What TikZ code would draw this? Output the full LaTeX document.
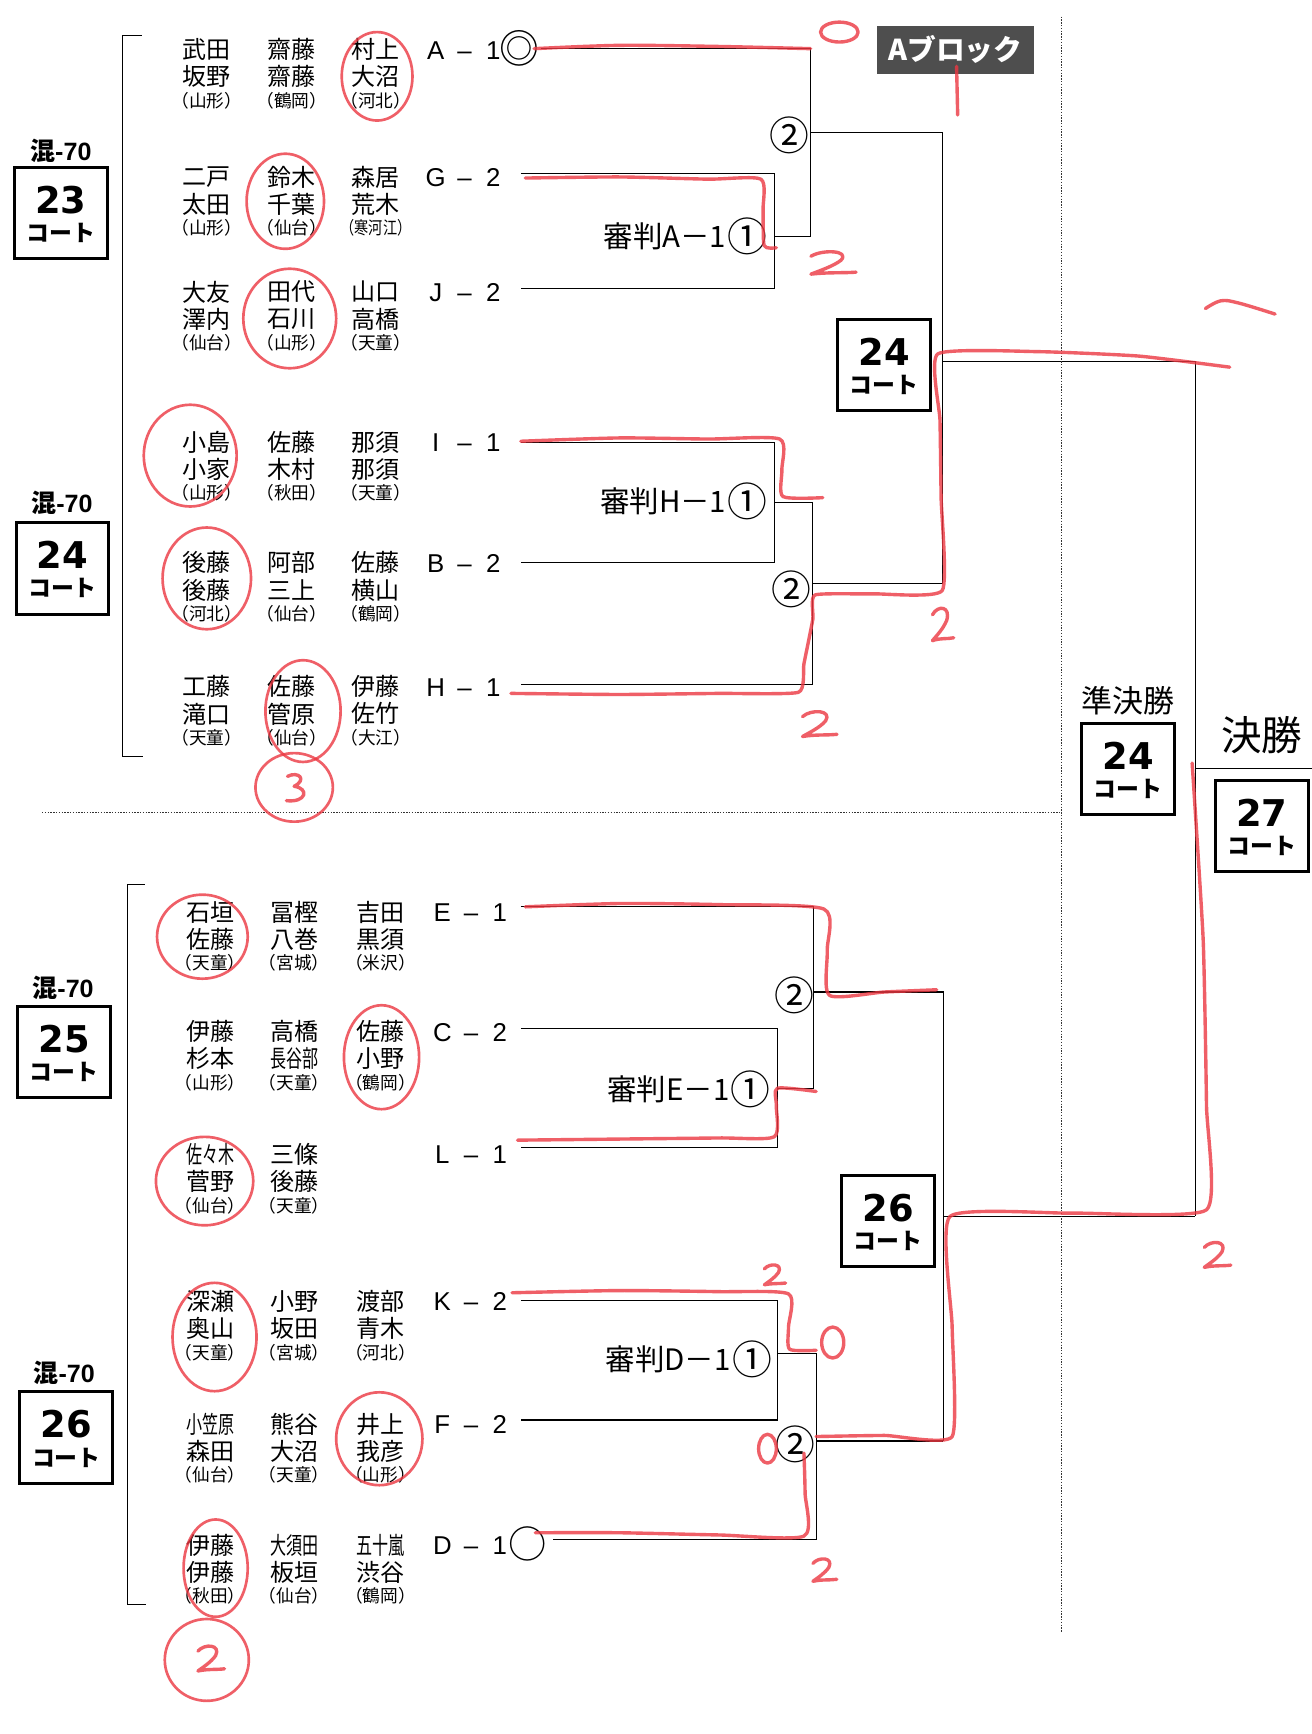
\documentclass[tikz,border=0pt]{standalone}
\usepackage{fontspec}
\usepackage{graphicx}
\newfontfamily\jp{Noto Sans CJK JP}
\newfontfamily\lsans{Liberation Sans}
\newfontfamily\dvs{DejaVu Sans}
\definecolor{penred}{RGB}{236,56,66}
\definecolor{blockgray}{RGB}{78,78,78}
\newcommand\cond[1]{\scalebox{0.667}[1]{#1}}
\newcommand\condaff[1]{\scalebox{0.8}[1]{#1}}
\tikzset{
  nm/.style={font=\jp\fontsize{16.3}{18}\selectfont, inner sep=0pt},
  affl/.style={font=\jp\fontsize{12}{13}\selectfont, inner sep=0pt},
  lb/.style={font=\lsans\fontsize{17.5}{18}\selectfont, inner sep=0pt, anchor=base},
  ln/.style={line width=0.75pt, draw=black},
  brk/.style={line width=0.9pt, draw=black},
  dotl/.style={line width=0.9pt, dash pattern=on 0.9pt off 1pt, draw=black!80},
  courtbox/.style={draw, line width=2pt, minimum width=63pt, minimum height=62pt, inner sep=0pt},
  cnum/.style={font=\dvs\bfseries\fontsize{25}{25}\selectfont, inner sep=0pt},
  ckoto/.style={font=\jp\bfseries\fontsize{15.5}{16}\selectfont, inner sep=0pt},
  mixl/.style={font=\jp\bfseries\fontsize{17}{18}\selectfont, inner sep=0pt},
  refl/.style={font=\jp\fontsize{20}{20}\selectfont, inner sep=0pt, anchor=east},
  circn/.style={font=\jp\fontsize{27}{27}\selectfont, inner sep=0pt},
  redpen/.style={draw=penred, line width=2.3pt, line cap=round, line join=round, opacity=0.8},
  redring/.style={draw=penred, line width=1.8pt, opacity=0.8},
  htwo/.pic={\draw[redpen] (-11,-7) .. controls (-5,-14) and (10,-13) .. (5,-3) .. controls (1,3) and (-7,8) .. (-11,11) .. controls (-2,9) and (6,10) .. (13,9);},
  hthree/.pic={\draw[redpen] (-8,-11) .. controls (2,-16) and (10,-8) .. (-2,-2) .. controls (12,0) and (9,13) .. (-9,11);},
}
\newcommand\mkcourt[4]{\node[courtbox] (#1) at (#2,#3) {};\node[cnum] (#1n) at (#2,#3-12) {#4};\node[ckoto] (#1k) at (#2,#3+18) {コート};}
\newcommand\grp[6]{\node[nm] (#1a) at (#2,#3) {#4};\node[nm] (#1b) at (#2,#3+24.5) {#5};\node[affl] (#1c) at (#2,#3+46) {#6};}
\newcommand\lab[5]{\node[lb] (#1l) at (#2,#3+8.4) {#4};\node[lb] (#1d) at (#2+26,#3+8.4) {–};\node[lb] (#1n) at (#2+52,#3+8.4) {#5};}
\newcommand\referee[4]{\node[circn] (#1c) at (#2,#3) {①};\node[refl] (#1) at ([xshift=-0.5pt]#1c.west) {審判#4－1};}
\begin{document}
\begin{tikzpicture}[x=0.75pt,y=-0.75pt]
\useasboundingbox (0,0) rectangle (1186,1568);
\fill[white] (0,0) rectangle (1186,1568);

% ---------- left court labels ----------
\node[mixl] (mx1) at (55,136) {混{\lsans\bfseries -70}};
\mkcourt{k23}{55}{192.5}{23}
\node[mixl] (mx2) at (56,455) {混{\lsans\bfseries -70}};
\mkcourt{k24}{56.5}{514}{24}
\node[mixl] (mx3) at (57,893) {混{\lsans\bfseries -70}};
\mkcourt{k25}{58}{951.5}{25}
\node[mixl] (mx4) at (58,1241) {混{\lsans\bfseries -70}};
\mkcourt{k26}{60}{1300}{26}

% ---------- big brackets ----------
\draw[brk] (128,32) -- (111,32) -- (111,684) -- (129,684);
\draw[brk] (131,800) -- (115,800) -- (115,1451) -- (132,1451);

% ---------- teams upper ----------
\grp{tA1}{187}{45}{武田}{坂野}{（山形）}
\grp{tA2}{264}{45}{齋藤}{齋藤}{（鶴岡）}
\grp{tA3}{340}{45}{村上}{大沼}{（河北）}
\grp{tG1}{187}{160}{二戸}{太田}{（山形）}
\grp{tG2}{264}{160}{鈴木}{千葉}{（仙台）}
\grp{tG3}{340}{160}{森居}{荒木}{\condaff{（寒河江）}}
\grp{tJ1}{187}{264}{大友}{澤内}{（仙台）}
\grp{tJ2}{264}{264}{田代}{石川}{（山形）}
\grp{tJ3}{340}{264}{山口}{高橋}{（天童）}
\grp{tI1}{187}{400}{小島}{小家}{（山形）}
\grp{tI2}{264}{400}{佐藤}{木村}{（秋田）}
\grp{tI3}{340}{400}{那須}{那須}{（天童）}
\grp{tB1}{187}{509}{後藤}{後藤}{（河北）}
\grp{tB2}{264}{509}{阿部}{三上}{（仙台）}
\grp{tB3}{340}{509}{佐藤}{横山}{（鶴岡）}
\grp{tH1}{187}{621}{工藤}{滝口}{（天童）}
\grp{tH2}{264}{621}{佐藤}{管原}{（仙台）}
\grp{tH3}{340}{621}{伊藤}{佐竹}{（大江）}
% ---------- teams lower ----------
\grp{tE1}{190}{825}{石垣}{佐藤}{（天童）}
\grp{tE2}{266}{825}{冨樫}{八巻}{（宮城）}
\grp{tE3}{344}{825}{吉田}{黒須}{（米沢）}
\grp{tC1}{190}{933}{伊藤}{杉本}{（山形）}
\grp{tC2}{266}{933}{高橋}{\cond{長谷部}}{（天童）}
\grp{tC3}{344}{933}{佐藤}{小野}{（鶴岡）}
\grp{tL1}{190}{1044}{\cond{佐々木}}{菅野}{（仙台）}
\grp{tL2}{266}{1044}{三條}{後藤}{（天童）}
\grp{tK1}{190}{1177}{深瀬}{奥山}{（天童）}
\grp{tK2}{266}{1177}{小野}{坂田}{（宮城）}
\grp{tK3}{344}{1177}{渡部}{青木}{（河北）}
\grp{tF1}{190}{1288}{\cond{小笠原}}{森田}{（仙台）}
\grp{tF2}{266}{1288}{熊谷}{大沼}{（天童）}
\grp{tF3}{344}{1288}{井上}{我彦}{（山形）}
\grp{tD1}{190}{1397}{伊藤}{伊藤}{（秋田）}
\grp{tD2}{266}{1397}{\cond{大須田}}{板垣}{（仙台）}
\grp{tD3}{344}{1397}{\cond{五十嵐}}{渋谷}{（鶴岡）}

% ---------- labels ----------
\lab{lA}{394}{45}{A}{1}
\node[font=\jp\fontsize{27}{27}\selectfont, inner sep=0pt] (dbl) at (470,44) {◎};
\lab{lG}{394}{160}{G}{2}
\lab{lJ}{394}{264}{J}{2}
\lab{lI}{394}{400}{I}{1}
\lab{lB}{394}{509}{B}{2}
\lab{lH}{394}{621}{H}{1}
\lab{lE}{400}{825}{E}{1}
\lab{lC}{400}{933}{C}{2}
\lab{lL}{400}{1044}{L}{1}
\lab{lK}{400}{1177}{K}{2}
\lab{lF}{400}{1288}{F}{2}
\lab{lD}{400}{1397}{D}{1}
\node[font=\jp\fontsize{26}{26}\selectfont, inner sep=0pt] (circD) at (477,1396) {○};

% ---------- bracket lines: A block ----------
\coordinate (pA) at (489,44);
\draw[ln] (pA) -- (733,44) -- (733,214);
\draw[ln] (471,157) -- (700,157) -- (700,261) -- (471,261);
\draw[ln] (700,214) -- (733,214);
\draw[ln] (733,120) -- (852,120) -- (852,528);
\draw[ln] (471,400) -- (700,400) -- (700,509) -- (471,509);
\draw[ln] (700,454) -- (735,454) -- (735,619) -- (471,619);
\draw[ln] (735,528) -- (852,528);
\draw[ln] (852,327) -- (1081,327) -- (1081,1100);
% lower block
\draw[ln] (471,820) -- (736,820) -- (736,984);
\draw[ln] (471,930) -- (703,930) -- (703,1038) -- (471,1038);
\draw[ln] (703,984) -- (736,984);
\draw[ln] (736,897) -- (853,897) -- (853,1303);
\draw[ln] (471,1176) -- (703,1176) -- (703,1284) -- (471,1284);
\draw[ln] (703,1224) -- (738,1224) -- (738,1392) -- (500,1392);
\draw[ln] (738,1303) -- (853,1303);
\draw[ln] (853,1100) -- (1081,1100);
\draw[ln] (1081,695) -- (1186,695);

% referee labels and circled numbers
\referee{rA}{676}{214}{A}
\referee{rH}{676}{453}{H}
\referee{rE}{679}{985}{E}
\referee{rD}{680}{1229}{D}
\node[circn] (wA) at (714,122) {②};
\node[circn] (wH) at (716,533) {②};
\node[circn] (wE) at (718,900) {②};
\node[circn] (wD) at (719,1306) {②};

% middle court boxes
\mkcourt{m24}{799.5}{330}{24}
\mkcourt{m26}{803}{1104}{26}

% block label
\node[fill=blockgray, text=white, minimum width=106.5pt, minimum height=32.6pt, inner sep=0pt, font=\jp\bfseries\fontsize{19.5}{19.5}\selectfont] (ablk) at (864,45) {Aブロック};

% semifinal / final
\node[font=\jp\fontsize{21}{21}\selectfont, inner sep=0pt] (sf) at (1020,634) {準決勝};
\mkcourt{s24}{1020}{695.5}{24}
\node[font=\jp\fontsize{27.5}{28}\selectfont, inner sep=0pt] (fn) at (1141,665) {決勝};
\mkcourt{f27}{1141}{747}{27}

% dotted separators
\draw[dotl] (38,735) -- (958,735);
\draw[dotl] (960,15) -- (960,1476);

% ---------- red handwriting ----------
\draw[redring] (341,69) ellipse [x radius=32, y radius=40];
\draw[redring] (258,182) ellipse [x radius=35, y radius=43];
\draw[redring] (262,288) ellipse [x radius=42, y radius=45];
\draw[redring] (172,412) ellipse [x radius=42, y radius=46];
\draw[redring] (187,523) ellipse [x radius=40, y radius=46];
\draw[redring] (274,643) ellipse [x radius=34, y radius=46];
\draw[redring] (266,712) ellipse [x radius=35, y radius=31];
\pic at (268,713) {hthree};
\draw[redring] (183,847) ellipse [x radius=41, y radius=38];
\draw[redring] (345,956) ellipse [x radius=34, y radius=47];
\draw[redring] (185,1068) ellipse [x radius=44, y radius=40];
\draw[redring] (194,1209) ellipse [x radius=38, y radius=49];
\draw[redring] (343,1301) ellipse [x radius=39, y radius=42];
\draw[redring] (195,1418) ellipse [x radius=29, y radius=44];
\draw[redring] (187,1501) ellipse [x radius=38, y radius=37];
\pic at (190,1500) {htwo};

% winner paths
\draw[redpen] plot[smooth, tension=0.5] coordinates {(483,44) (560,41) (650,42) (733,44)};
\draw[redpen] (759,29) ellipse [x radius=17, y radius=9];
\draw[redpen] (865,60) -- (866,104);
\draw[redpen] plot[smooth, tension=0.4] coordinates {(475,161) (560,160) (640,162) (688,162) (690,190) (691,222) (702,224)};
\pic[xscale=1.7, yscale=0.9] at (752,238) {htwo};
\draw[redpen] plot[smooth, tension=0.4] coordinates {(471,399) (560,396) (640,397) (705,397) (707,425) (708,449) (744,450)};
\draw[redpen] plot[smooth, tension=0.3] coordinates {(462,627) (560,628) (650,627) (722,626) (727,600) (735,560) (737,538) (790,537) (852,534) (851,450) (850,380) (848,320) (940,318) (1030,322) (1112,332)};
\pic[xscale=1.3] at (740,655) {htwo};
\pic[xscale=0.8, yscale=1.3] at (852,565) {htwo};
\draw[redpen] plot[smooth, tension=0.6] coordinates {(1090,279) (1104,272) (1120,274) (1153,284)};
\draw[redpen] plot[smooth, tension=0.4] coordinates {(475,820) (560,817) (650,818) (745,822) (748,860) (750,900) (800,897) (847,895)};
\draw[redpen] plot[smooth, tension=0.4] coordinates {(468,1031) (560,1030) (650,1029) (700,1028) (702,1000) (703,984) (738,987)};
\draw[redpen] plot[smooth, tension=0.4] coordinates {(463,1169) (560,1167) (650,1168) (713,1170) (713,1200) (714,1220) (738,1221)};
\pic[scale=0.8] at (700,1153) {htwo};
\draw[redpen] (753,1214) ellipse [x radius=10, y radius=14];
\draw[redpen] (694,1310) ellipse [x radius=8, y radius=13];
\draw[redpen] plot[smooth, tension=0.4] coordinates {(484,1386) (560,1386) (650,1388) (727,1389) (728,1350) (727,1314)};
\draw[redpen] plot[smooth, tension=0.3] coordinates {(738,1299) (800,1298) (861,1299) (861,1200) (859,1100) (970,1097) (1091,1094) (1091,1000) (1088,850) (1078,690)};
\pic[scale=0.9] at (745,1420) {htwo};
\pic at (1100,1135) {htwo};
\end{tikzpicture}
\end{document}
